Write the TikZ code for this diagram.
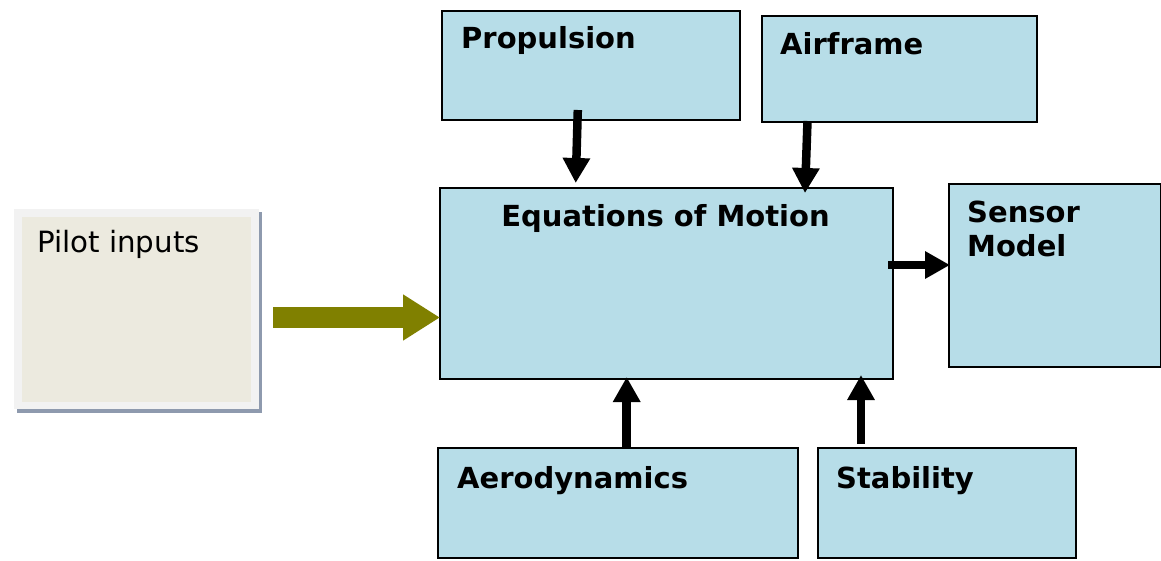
\documentclass[tikz,border=0pt]{standalone}
\usepackage{fontspec}
\setmainfont{DejaVu Sans}
\usetikzlibrary{arrows.meta}
\definecolor{boxblue}{HTML}{B7DDE8}
\definecolor{pilotfill}{HTML}{ECEADF}
\definecolor{pilotframe}{HTML}{F2F2F2}
\definecolor{pilotshadow}{HTML}{8E9AAE}
\definecolor{arrowolive}{HTML}{808000}
\tikzset{
  bbox/.style={draw=black, line width=1.5pt, fill=boxblue, anchor=north west, inner sep=0pt},
  lbl/.style={inner sep=0pt, font=\bfseries\fontsize{29}{34}\selectfont},
  plbl/.style={inner sep=0pt, font=\fontsize{29.3}{34}\selectfont},
  flow/.style={line width=8.5pt, -{Triangle[length=25pt,width=26pt]}},
}
\begin{document}
\begin{tikzpicture}[x=1pt,y=-1pt]
\useasboundingbox (0,0) rectangle (1161,560);
% pilot inputs
\fill[pilotshadow] (17,212) rectangle (262,413);
\fill[pilotframe] (14,209) rectangle (259,409);
\node[fill=pilotfill, anchor=north west, inner sep=0pt, minimum width=229pt, minimum height=185pt] (pilot) at (22,217) {};
\node[plbl, anchor=base west] (pilott) at (37,252) {Pilot inputs};
% boxes
\node[bbox, minimum width=298pt, minimum height=109pt] (prop) at (441,10) {};
\node[bbox, minimum width=275pt, minimum height=106pt] (air) at (761,15) {};
\node[bbox, minimum width=453pt, minimum height=191pt] (eom) at (439,187) {};
\node[bbox, minimum width=212pt, minimum height=183pt] (sens) at (948,183) {};
\node[bbox, minimum width=360pt, minimum height=110pt] (aero) at (437,447) {};
\node[bbox, minimum width=258pt, minimum height=110pt] (stab) at (817,447) {};
% labels
\node[lbl, anchor=base west] (propt) at (461,48) {Propulsion};
\node[lbl, anchor=base west] (airt) at (780,54) {Airframe};
\node[lbl, anchor=base] (eomt) at (665.5,226) {Equations of Motion};
\node[lbl, anchor=north west, align=left] (senst) at (967,201) {Sensor\\Model};
\node[lbl, anchor=base west] (aerot) at (457,488) {Aerodynamics};
\node[lbl, anchor=base west] (stabt) at (836,488) {Stability};
% connectors
\coordinate (p1) at (577.8,110);
\coordinate (p2) at (575.7,183);
\coordinate (a1) at (807.5,121);
\coordinate (a2) at (805,193);
\coordinate (d1) at (626.7,447);
\coordinate (d2) at (626.7,377);
\coordinate (s1) at (861,444);
\coordinate (s2) at (861,375);
\coordinate (e1) at (888,265);
\coordinate (e2) at (950,265);
\draw[flow] (p1) -- (p2);
\draw[flow] (a1) -- (a2);
\draw[flow] (d1) -- (d2);
\draw[flow] (s1) -- (s2);
\draw[flow] (e1) -- (e2);
\coordinate (o1) at (273,317.5);
\coordinate (o2) at (440,317.5);
\draw[arrowolive, line width=21.6pt, -{Triangle[length=37pt,width=43.6pt]}] (o1) -- (o2);
\end{tikzpicture}
\end{document}
